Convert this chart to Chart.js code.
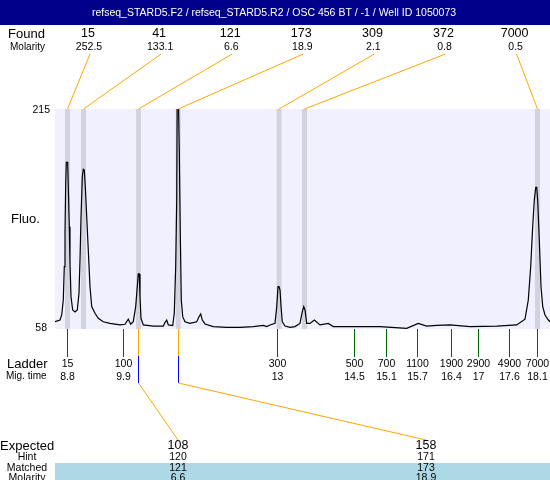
<!DOCTYPE html>
<html>
<head>
<meta charset="utf-8">
<script src="https://cdn.jsdelivr.net/npm/chart.js@4/dist/chart.umd.min.js"></script>
<style>
  html, body { margin: 0; padding: 0; background: #fff; }
  #wrap { width: 550px; height: 480px; position: relative; }
</style>
</head>
<body>
<div id="wrap"><canvas id="trace"></canvas></div>
<script>
// electropherogram trace: migration time (min) -> fluorescence
const traceTime = [
  8.556, 8.655, 8.689, 8.720, 8.740, 8.754, 8.768, 8.780, 8.807, 8.819, 8.839, 8.853, 8.873,
  8.906, 8.952, 8.998, 9.031, 9.051, 9.071, 9.097, 9.116, 9.136, 9.156, 9.184, 9.215, 9.249,
  9.283, 9.348, 9.413, 9.512, 9.645, 9.843, 9.942, 10.007, 10.055, 10.106, 10.154, 10.185,
  10.205, 10.225, 10.239, 10.259, 10.305, 10.503, 10.701, 10.734, 10.768, 10.800, 10.887,
  10.918, 10.946, 10.966, 10.978, 10.997, 11.017, 11.037, 11.057, 11.085, 11.130, 11.229,
  11.362, 11.407, 11.441, 11.473, 11.526, 11.691, 11.956, 12.219, 12.483, 12.681, 12.748,
  12.813, 12.913, 12.947, 12.972, 12.992, 13.012, 13.032, 13.057, 13.111, 13.210, 13.308,
  13.407, 13.453, 13.481, 13.507, 13.540, 13.606, 13.691, 13.804, 13.968, 14.067, 14.463,
  14.794, 14.992, 15.520, 15.750, 15.916, 16.114, 16.378, 16.774, 17.302, 17.698, 17.863,
  17.928, 17.976, 18.015, 18.047, 18.075, 18.095, 18.114, 18.146, 18.180, 18.214, 18.259,
  18.325, 18.358
];
const traceFluo = [
  63.2, 64.4, 68, 78.7, 102.5, 126.5, 162, 177, 177, 159.6, 131, 105, 81,
  71.6, 70.1, 71.6, 83.5, 107, 138, 166.7, 172, 171.5, 159.6, 138, 114.4, 88.2,
  74, 69.2, 65.6, 63.2, 62, 60.9, 61.4, 65, 61.4, 63.2, 74, 88.2,
  97.3, 97.3, 81, 65.6, 60.9, 60.1, 60.1, 62.6, 64.4, 60.9, 60.4,
  69.2, 102.5, 150, 240, 228, 185.7, 126.3, 78.7, 66.8, 63.2, 62,
  63.2, 66.8, 68.7, 64.4, 61.6, 59.7, 59.2, 59.2, 59.7, 60.6, 59.7,
  60.9, 62, 74, 88.2, 88.2, 85.8, 74, 63.2, 60.1, 59.2, 59.7,
  62, 70.4, 74, 71.6, 62, 62, 64.4, 60.9, 62, 59.7, 59.7,
  59.7, 59.7, 58.5, 62, 60.1, 60.6, 61, 59.7, 60.1, 60.9, 65,
  78.7, 102.5, 131, 150, 159.1, 159.1, 150, 121.5, 88.2, 74, 68,
  64.4, 63.2
];

const foundSizes = ["15", "41", "121", "173", "309", "372", "7000"];
const foundMolarity = ["252.5", "133.1", "6.6", "18.9", "2.1", "0.8", "0.5"];
const foundTimes = [8.804, 9.120, 10.209, 10.995, 12.992, 13.497, 18.110];

const ladderSizes = ["15", "100", "300", "500", "700", "1100", "1900", "2900", "4900", "7000"];
const ladderMigTime = ["8.8", "9.9", "13", "14.5", "15.1", "15.7", "16.4", "17", "17.6", "18.1"];
const ladderTimes = [8.800, 9.912, 12.946, 14.477, 15.101, 15.733, 16.406, 16.940, 17.552, 18.100];

const expectedSizes = ["108", "158"];
const hintSizes = ["120", "171"];
const matchedFound = [2, 3]; // index into found peaks
const fluoTicks = [58, 215];
const timeRange = [8.556, 18.358];
const bandWidth = 0.099; // min

const title = "refseq_STARD5.F2 / refseq_STARD5.R2 / OSC 456 BT / -1 / Well ID 1050073";
const FONT = '"Liberation Sans", Arial, sans-serif';

function txt(ctx, s, x, y, size, align, color) {
  ctx.font = size + "px " + FONT;
  ctx.textAlign = align || "center";
  ctx.textBaseline = "middle";
  ctx.fillStyle = color || "#000";
  ctx.fillText(s, x, y);
}

function seg(ctx, x1, y1, x2, y2, color) {
  ctx.beginPath();
  ctx.strokeStyle = color;
  ctx.lineWidth = 1;
  ctx.moveTo(x1, y1);
  ctx.lineTo(x2, y2);
  ctx.stroke();
}

const overlay = {
  id: "overlay",
  beforeDatasetsDraw(chart) {
    const { ctx, chartArea: a, scales } = chart;
    ctx.save();
    ctx.fillStyle = "#f0f0ff";
    ctx.fillRect(a.left, a.top, a.right - a.left, a.bottom - a.top);
    ctx.fillStyle = "#d3d3e0";
    foundTimes.forEach((t) => {
      const x1 = scales.x.getPixelForValue(t - bandWidth / 2);
      const x2 = scales.x.getPixelForValue(t + bandWidth / 2);
      ctx.fillRect(x1, a.top, x2 - x1, a.bottom - a.top);
    });
    ctx.restore();
  },
  afterDraw(chart) {
    const { ctx, chartArea: a, scales } = chart;
    const W = chart.width;
    ctx.save();

    // title bar
    ctx.fillStyle = "#00008b";
    ctx.fillRect(0, 0, W, 25);
    txt(ctx, title, 274, 13, 10.5, "center", "#fff");

    // found peaks
    txt(ctx, "Found", 8, 34, 13, "left");
    txt(ctx, "Molarity", 10, 47, 10, "left");
    foundSizes.forEach((s, i) => {
      const lx = 88 + i * 71.1;
      txt(ctx, s, lx, 34, 12.5);
      txt(ctx, foundMolarity[i], lx + 1, 47, 10.5);
      const px = scales.x.getPixelForValue(foundTimes[i]);
      seg(ctx, lx + 2, 54, px, a.top, "#ffa500");
    });

    // y labels
    txt(ctx, String(fluoTicks[1]), 50, scales.y.getPixelForValue(fluoTicks[1]) + 1, 10.5, "right");
    txt(ctx, String(fluoTicks[0]), 47, scales.y.getPixelForValue(fluoTicks[0]) - 1, 10.5, "right");
    txt(ctx, "Fluo.", 11, (a.top + a.bottom) / 2, 13, "left");

    // ladder
    txt(ctx, "Ladder", 7, 364, 13, "left");
    txt(ctx, "Mig. time", 6, 376, 10, "left");
    ladderTimes.forEach((t, i) => {
      const x = Math.round(scales.x.getPixelForValue(t)) + 0.5;
      seg(ctx, x, a.bottom, x, 357, "#006400");
      txt(ctx, ladderSizes[i], x, 364, 10.5);
      txt(ctx, ladderMigTime[i], x, 377, 10.5);
    });

    // expected / matched table
    ctx.fillStyle = "#add8e6";
    ctx.fillRect(a.left, 463, W - a.left, 17);
    txt(ctx, "Expected", 0, 446, 13, "left");
    txt(ctx, "Hint", 27, 457, 10.5);
    txt(ctx, "Matched", 27, 468, 10.5);
    txt(ctx, "Molarity", 27, 478, 10.5);
    expectedSizes.forEach((s, i) => {
      const lx = 178 + i * 248;
      const fi = matchedFound[i];
      const x = Math.round(scales.x.getPixelForValue(foundTimes[fi])) + 0.5;
      seg(ctx, x, a.bottom, x, 356, "#ffa500");
      seg(ctx, x, 356, x, 383, "#0000ff");
      seg(ctx, x, 383, lx, 440, "#ffa500");
      txt(ctx, s, lx, 446, 12.5);
      txt(ctx, hintSizes[i], lx, 457, 10.5);
      txt(ctx, foundSizes[fi], lx, 468, 10.5);
      txt(ctx, foundMolarity[fi], lx, 478, 10.5);
    });
    ctx.restore();
  }
};

const points = traceTime.map((t, i) => ({ x: t, y: traceFluo[i] }));

new Chart(document.getElementById("trace"), {
  type: "line",
  data: {
    datasets: [{
      data: points,
      borderColor: "#000",
      borderWidth: 1.2,
      pointRadius: 0,
      tension: 0,
      fill: false
    }]
  },
  options: {
    responsive: true,
    maintainAspectRatio: false,
    animation: false,
    devicePixelRatio: 1,
    layout: { padding: { left: 55, right: 0, top: 109, bottom: 151 } },
    scales: {
      x: { type: "linear", min: timeRange[0], max: timeRange[1], display: false },
      y: { min: fluoTicks[0], max: fluoTicks[1], display: false }
    },
    plugins: { legend: { display: false }, tooltip: { enabled: false } }
  },
  plugins: [overlay]
});
</script>
</body>
</html>
